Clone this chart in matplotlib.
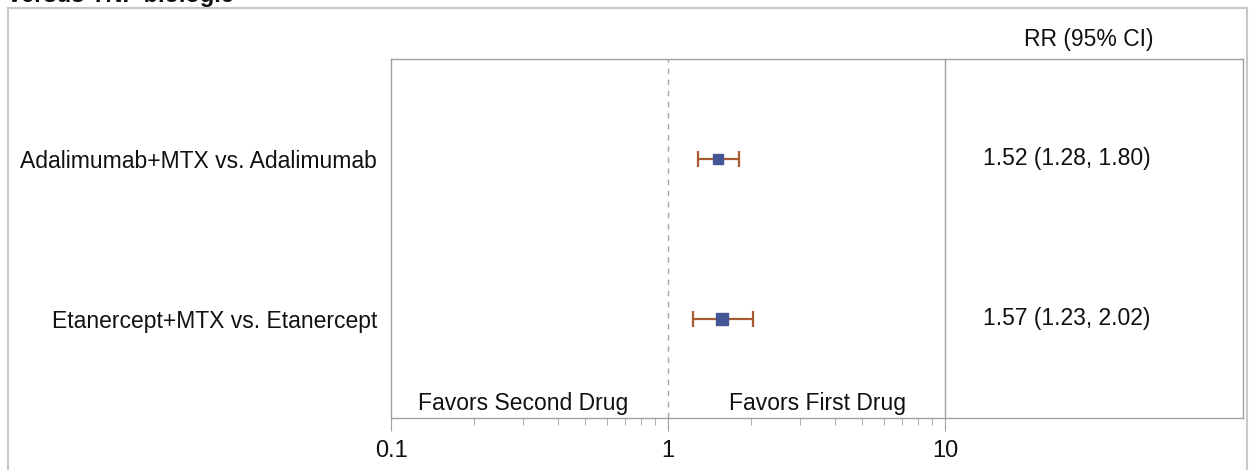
import matplotlib.pyplot as plt
import matplotlib.patches as patches
from matplotlib.ticker import NullFormatter, FixedLocator, FixedFormatter

plt.rcParams['font.family'] = ['Liberation Sans', 'DejaVu Sans']

# data
comparisons = ['Adalimumab+MTX vs. Adalimumab', 'Etanercept+MTX vs. Etanercept']
rr = [1.52, 1.57]
lower = [1.28, 1.23]
upper = [1.80, 2.02]
marker_sizes = [7.5, 8.8]
tick_vals = [0.1, 1, 10]
tick_labels = ['0.1', '1', '10']

W, H = 1250, 470
fig = plt.figure(figsize=(W / 100, H / 100), dpi=100)

# outer frame (cut off at the bottom)
fig.patches.append(patches.Rectangle((8 / W, -0.05), (1247 - 8) / W, 1.05 - 8 / H,
                                     transform=fig.transFigure, fill=False,
                                     edgecolor='#c8c8c8', linewidth=1.5))
# title cut off at top
fig.text(8 / W, 1 - 2 / H, 'versus TNF biologic', fontsize=17, fontweight='bold',
         ha='left', va='baseline', color='#111111')

ax = fig.add_axes([391 / W, (H - 418) / H, (1243 - 391) / W, (418 - 59) / H])
ax.set_xscale('log')
ax.set_xlim(0.1, 119)
ax.set_ylim(2.62, 0.375)

ys = list(range(1, len(comparisons) + 1))
for y, r, lo, hi, ms in zip(ys, rr, lower, upper, marker_sizes):
    ax.errorbar([r], [y], xerr=[[r - lo], [hi - r]], fmt='none', ecolor='#a85a30',
                elinewidth=1.6, capsize=6, capthick=1.6, zorder=2)
    ax.plot([r], [y], marker='s', markersize=ms, color='#445694', linestyle='none', zorder=3)

ax.axvline(1, color='#a8a8a8', linestyle=(0, (4, 4)), linewidth=1)
ax.axvline(10, color='#a0a0a0', linewidth=1)

# RR column
for y, r, lo, hi in zip(ys, rr, lower, upper):
    ax.text(27.4, y, f'{r:.2f} ({lo:.2f}, {hi:.2f})', ha='center', va='center', fontsize=16.5,
            color='#111111')
ax.text(33, 0.25, 'RR (95% CI)', ha='center', va='center', fontsize=16.5, color='#111111',
        clip_on=False)

ax.text(0.3, 2.53, 'Favors Second Drug', ha='center', va='center', fontsize=16.5, color='#111111')
ax.text(3.45, 2.53, 'Favors First Drug', ha='center', va='center', fontsize=16.5, color='#111111')

ax.set_yticks(ys)
ax.set_yticklabels(comparisons, fontsize=16.5, color='#111111')
ax.tick_params(axis='y', length=0, pad=10)

ax.xaxis.set_major_locator(FixedLocator(tick_vals))
ax.xaxis.set_major_formatter(FixedFormatter(tick_labels))
minors = [m * d for d in (0.1, 1) for m in range(2, 10)]
ax.xaxis.set_minor_locator(FixedLocator(minors))
ax.xaxis.set_minor_formatter(NullFormatter())
ax.tick_params(axis='x', which='major', length=9, color='#a0a0a0', labelsize=17,
               labelcolor='#111111', pad=7)
ax.tick_params(axis='x', which='minor', length=5, color='#a0a0a0')

for s in ax.spines.values():
    s.set_color('#a0a0a0')
    s.set_linewidth(1)

fig.savefig('out.png', dpi=100)
